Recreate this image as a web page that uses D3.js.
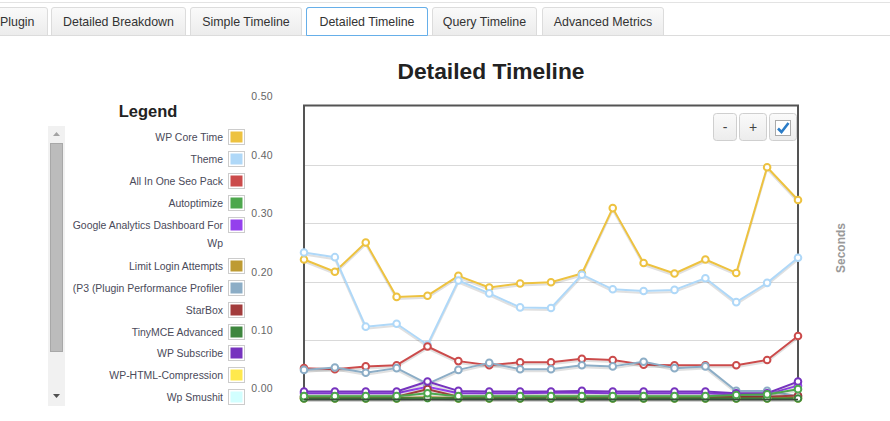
<!DOCTYPE html>
<html><head><meta charset="utf-8">
<script src="https://cdn.jsdelivr.net/npm/d3@7"></script>
<style>
html,body{margin:0;padding:0;background:#fff;}
svg{display:block;font-family:"Liberation Sans",Arial,sans-serif;}
</style></head>
<body><svg id="c" width="890" height="421"></svg>
<script>
// ---------- data ----------
const tabs = ["Plugin","Detailed Breakdown","Simple Timeline","Detailed Timeline","Query Timeline","Advanced Metrics"];
const activeTab = "Detailed Timeline";
const samples = [1,2,3,4,5,6,7,8,9,10,11,12,13,14,15,16,17];
const yTicks = [0.00,0.10,0.20,0.30,0.40,0.50];
const gridTicks = [0.10,0.20,0.30,0.40];

const seriesNames = ["WP Core Time","Theme","All In One Seo Pack","Autoptimize","Google Analytics Dashboard For Wp","Limit Login Attempts","(P3 (Plugin Performance Profiler","StarBox","TinyMCE Advanced","WP Subscribe","WP-HTML-Compression","Wp Smushit"];
const seriesColors = ["#edc240","#afd8f8","#cb4b4b","#4da74d","#9440ed","#be9b33","#8cadc6","#a23c3c","#3e863e","#7633be","#ffe94d","#d2ffff"];

const wpCoreTime   = [0.238,0.217,0.267,0.174,0.176,0.210,0.190,0.197,0.199,0.214,0.326,0.232,0.214,0.238,0.215,0.396,0.340];
const theme        = [0.250,0.242,0.123,0.128,0.092,0.202,0.180,0.156,0.155,0.212,0.187,0.184,0.186,0.206,0.165,0.198,0.241];
const allInOneSeo  = [0.052,0.050,0.055,0.057,0.089,0.064,0.057,0.062,0.062,0.068,0.066,0.058,0.057,0.057,0.057,0.066,0.107];
const autoptimize  = [0.004,0.004,0.004,0.004,0.009,0.004,0.004,0.004,0.004,0.004,0.004,0.004,0.004,0.004,0.006,0.007,0.016];
const googleAnalytics = [0.009,0.009,0.009,0.009,0.020,0.009,0.009,0.009,0.010,0.010,0.009,0.009,0.009,0.009,0.007,0.007,0.022];
const limitLogin   = [0.001,0.001,0.001,0.001,0.002,0.001,0.001,0.001,0.001,0.001,0.001,0.001,0.001,0.001,0.001,0.001,0.002];
const p3Profiler   = [0.049,0.053,0.044,0.052,0.025,0.049,0.061,0.050,0.050,0.057,0.055,0.063,0.052,0.055,0.013,0.013,0.004];
const starBox      = [0.003,0.003,0.003,0.003,0.016,0.003,0.003,0.003,0.003,0.003,0.003,0.003,0.003,0.003,0.003,0.003,0.005];
const tinyMce      = [0.000,0.000,0.000,0.000,0.001,0.000,0.000,0.000,0.000,0.000,0.000,0.000,0.000,0.000,0.000,0.000,0.000];
const wpSubscribe  = [0.012,0.012,0.012,0.012,0.029,0.013,0.012,0.012,0.012,0.013,0.012,0.012,0.012,0.012,0.009,0.009,0.029];
const wpHtmlCompression = [0.000,0.000,0.000,0.000,0.001,0.000,0.000,0.000,0.000,0.000,0.000,0.000,0.000,0.000,0.000,0.000,0.000];
const wpSmushit    = [0.000,0.000,0.000,0.000,0.000,0.000,0.000,0.000,0.000,0.000,0.000,0.000,0.000,0.000,0.000,0.000,0.000];

const seriesValues = [wpCoreTime,theme,allInOneSeo,autoptimize,googleAnalytics,limitLogin,p3Profiler,starBox,tinyMce,wpSubscribe,wpHtmlCompression,wpSmushit];
// paint order (index into series), bottom-most tiny series underneath
const drawOrder = [11,10,0,1,2,4,5,6,7,9,8,3];

// ---------- drawing ----------
const svg = d3.select("#c");
const defs = svg.append("defs");
const g1 = defs.append("linearGradient").attr("id","tabg").attr("x1",0).attr("y1",0).attr("x2",0).attr("y2",1);
g1.append("stop").attr("offset","0%").attr("stop-color","#fafafa");
g1.append("stop").attr("offset","100%").attr("stop-color","#ececec");

// top bars
svg.append("line").attr("x1",0).attr("x2",890).attr("y1",2.5).attr("y2",2.5).attr("stroke","#e3e3e3");
const tabX = [[-4,48],[51,186],[190,302],[306,428],[432,537],[542,664]];
const tabG = svg.append("g");
tabs.forEach((t,i)=>{
  const [a,b] = tabX[i];
  const act = t===activeTab;
  tabG.append("path")
    .attr("d",`M${a+0.5},35.5 V10 Q${a+0.5},7.5 ${a+3},7.5 H${b-3} Q${b-0.5},7.5 ${b-0.5},10 V35.5`)
    .attr("fill",act?"#fff":"url(#tabg)")
    .attr("stroke",act?"#66afe9":"#dcdcdc");
});
svg.append("line").attr("x1",0).attr("x2",890).attr("y1",35.5).attr("y2",35.5).attr("stroke","#dcdcdc");
{
  const i = tabs.indexOf(activeTab); const [a,b] = tabX[i];
  svg.append("path").attr("d",`M${a+0.5},35.5 V10 Q${a+0.5},7.5 ${a+3},7.5 H${b-3} Q${b-0.5},7.5 ${b-0.5},10 V35.5 Z`)
    .attr("fill","#fff").attr("stroke","#66afe9");
}
tabs.forEach((t,i)=>{
  const [a,b] = tabX[i];
  svg.append("text").attr("x",(i===0? 34.5 : (a+b)/2)).attr("y",25.5).attr("text-anchor",i===0?"end":"middle")
    .attr("font-size",12.4).attr("fill","#333").text(t);
});

// title
svg.append("text").attr("x",491).attr("y",79).attr("text-anchor","middle")
  .attr("font-size",22.8).attr("font-weight","bold").attr("fill","#222").text("Detailed Timeline");

// scales
const x = d3.scaleLinear().domain([0, samples.length-1]).range([304,798]);
const y = d3.scaleLinear().domain([0,0.5]).range([398.5,106.5]);

// grid
svg.append("g").selectAll("line").data(gridTicks).join("line")
  .attr("x1",x.range()[0]).attr("x2",x.range()[1])
  .attr("y1",d=>Math.round(y(d))+0.5).attr("y2",d=>Math.round(y(d))+0.5)
  .attr("stroke","#d9d9d9").attr("stroke-width",1);

// y axis labels (offset above grid, as in reference)
const yAxis = d3.axisLeft(y).tickValues(yTicks).tickFormat(d3.format(".2f")).tickSize(0).tickPadding(0);
const ya = svg.append("g").attr("transform","translate(273,-10)").call(yAxis);
ya.select(".domain").remove();
ya.selectAll("text").attr("font-size",10.5).attr("fill","#666").attr("font-family","Liberation Sans, Arial, sans-serif").style("letter-spacing","0.3px");

// frame
const fx0=x.range()[0], fx1=x.range()[1], fy0=y.range()[1]-1, fy1=y.range()[0]+1.5;
svg.append("path").attr("d",`M${fx0},${fy1} V${fy0} H${fx1} V${fy1}`)
  .attr("fill","none").attr("stroke","#545454").attr("stroke-width",2);

// series
const line = d3.line().x((d,i)=>x(i)).y(d=>y(d));
const plot = svg.append("g");
drawOrder.forEach(si=>{
  const vals = seriesValues[si];
  plot.append("path").attr("d",line(vals)).attr("fill","none")
    .attr("stroke","rgba(0,0,0,0.12)").attr("stroke-width",2).attr("transform","translate(0,2)").attr("stroke-linejoin","round");
  plot.append("path").attr("d",line(vals)).attr("fill","none")
    .attr("stroke",seriesColors[si]).attr("stroke-width",2).attr("stroke-linejoin","round");
});
svg.append("line").attr("x1",fx0).attr("x2",fx1).attr("y1",fy1-0.5).attr("y2",fy1-0.5).attr("stroke","#3a4a3a").attr("stroke-width",1.5);
drawOrder.forEach(si=>{
  const vals = seriesValues[si];
  plot.append("g").selectAll("circle").data(vals).join("circle")
    .attr("cx",(d,i)=>x(i)).attr("cy",d=>y(d)).attr("r",3.3)
    .attr("fill","#fff").attr("stroke",seriesColors[si]).attr("stroke-width",2);
});

// zoom buttons
const btns = [[713,737,"-"],[739,767,"+"],[769,797,"check"]];
btns.forEach(([a,b,t])=>{
  svg.append("rect").attr("x",a+0.5).attr("y",113.5).attr("width",b-a-1).attr("height",27).attr("rx",3)
    .attr("fill","url(#tabg)").attr("stroke","#cfcfcf");
  if(t==="check"){
    svg.append("rect").attr("x",775.5).attr("y",120.5).attr("width",15).attr("height",15).attr("fill","#fff").attr("stroke","#aaa");
    svg.append("path").attr("d","M778,128.5 L781.5,132 L788.5,123").attr("fill","none").attr("stroke","#2b7cc7").attr("stroke-width",2.6);
  } else {
    svg.append("text").attr("x",(a+b)/2).attr("y",132).attr("text-anchor","middle").attr("font-size",14).attr("fill","#444").text(t);
  }
});

// y axis title
svg.append("text").attr("transform","translate(845,248) rotate(-90)").attr("text-anchor","middle")
  .attr("font-size",12).attr("font-weight","bold").attr("fill","#999").text("Seconds");

// legend
svg.append("text").attr("x",148).attr("y",117).attr("text-anchor","middle").attr("font-size",16.5)
  .attr("font-weight","bold").attr("fill","#222").text("Legend");
svg.append("rect").attr("x",48).attr("y",126).attr("width",17).attr("height",280).attr("fill","#f1f1f1");
svg.append("rect").attr("x",50.5).attr("y",143.5).attr("width",12).attr("height",208).attr("fill","#bcbcbc").attr("stroke","#a8a8a8");
svg.append("path").attr("d","M53,136 L56.5,132 L60,136 Z").attr("fill","#a3a3a3");
svg.append("path").attr("d","M53,394 L60,394 L56.5,398 Z").attr("fill","#505050");

const rowY = [137,159,181,203,225,266,288,310,332,353,375,397];
const lg = svg.append("g");
const legendFont = 10.45;
seriesNames.forEach((n,i)=>{
  const yy = rowY[i];
  if(n==="Google Analytics Dashboard For Wp"){
    lg.append("text").attr("x",223).attr("y",yy+4).attr("text-anchor","end").attr("font-size",legendFont).attr("fill","#4a4a5a").text("Google Analytics Dashboard For");
    lg.append("text").attr("x",223).attr("y",yy+22).attr("text-anchor","end").attr("font-size",legendFont).attr("fill","#4a4a5a").text("Wp");
  } else {
    lg.append("text").attr("x",223).attr("y",yy+4).attr("text-anchor","end").attr("font-size",legendFont).attr("fill","#4a4a5a").text(n);
  }
  lg.append("rect").attr("x",228.5).attr("y",yy-7.5).attr("width",16).attr("height",15).attr("fill","#fff").attr("stroke","#ccc");
  lg.append("rect").attr("x",230.5).attr("y",yy-5.5).attr("width",12).attr("height",11).attr("fill",seriesColors[i]);
});
</script></body></html>
